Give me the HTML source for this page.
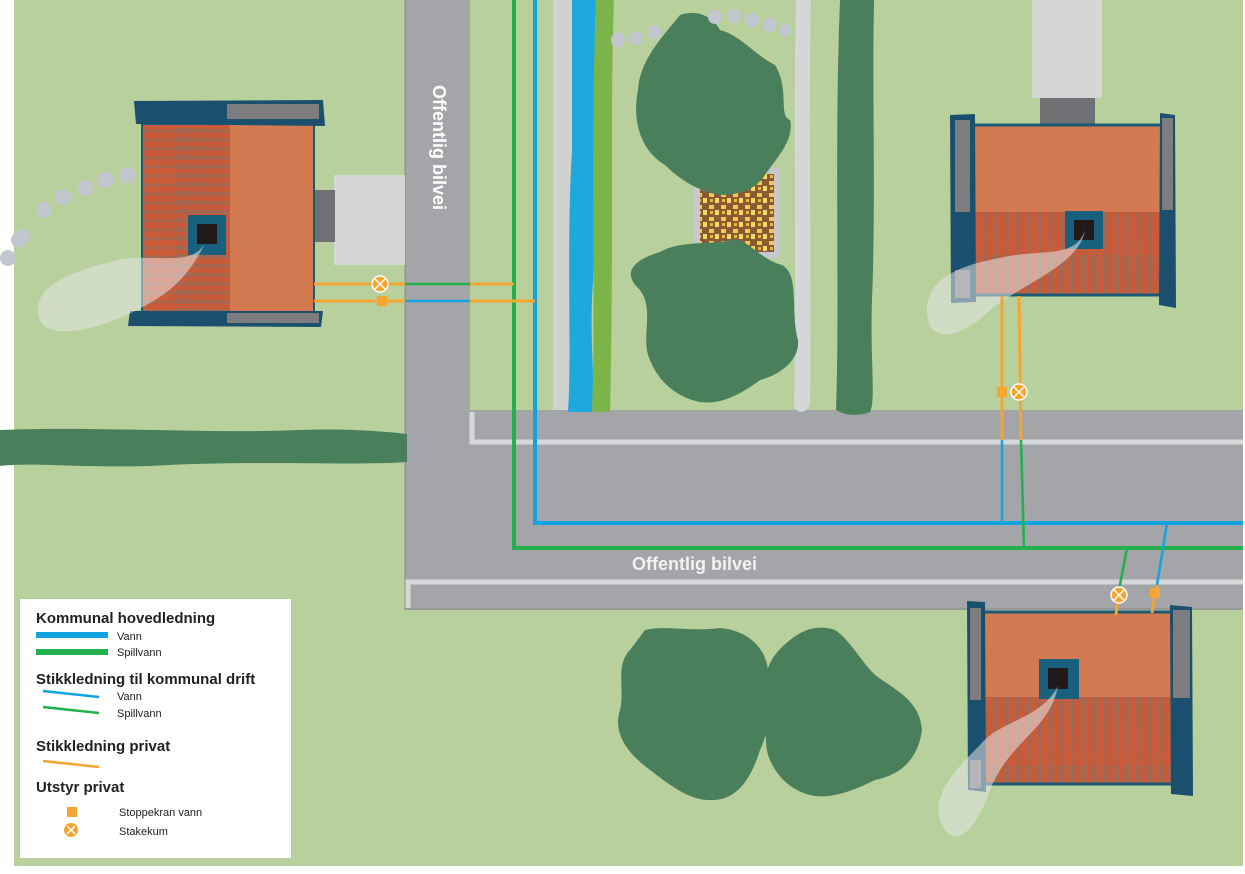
<!DOCTYPE html>
<html><head><meta charset="utf-8"><style>
html,body{margin:0;padding:0;background:#fff}
svg{display:block}
text{font-family:"Liberation Sans",Arial,sans-serif}
</style></head><body>
<svg width="1245" height="874" viewBox="0 0 1245 874" xmlns="http://www.w3.org/2000/svg">
<defs>
<pattern id="stripeH" width="88" height="9" patternUnits="userSpaceOnUse">
<rect width="88" height="9" fill="#c95a3a"/><path d="M0 2 L88 4 L88 6 L0 7Z" fill="#9e6a55" opacity="0.8"/>
</pattern>
<pattern id="stripeV" width="11" height="85" patternUnits="userSpaceOnUse">
<rect width="11" height="85" fill="#c95a3a"/><path d="M2 0 L5 85 L7 85 L9 0Z" fill="#9e6a55" opacity="0.8"/>
</pattern>
<pattern id="gravel" width="12" height="12" patternUnits="userSpaceOnUse">
<rect width="12" height="12" fill="#8a5a32"/><rect x="1" y="1" width="5" height="4" fill="#f3c84f"/><rect x="7" y="6" width="4" height="5" fill="#f6d86a"/><rect x="2" y="7" width="3" height="3" fill="#e9b83c"/>
</pattern>
</defs>
<rect width="1245" height="874" fill="#fff"/>
<rect x="14" y="0" width="1229" height="866" fill="#b8d09c"/>

<!-- roads -->
<rect x="405" y="0" width="65" height="610" fill="#a4a5a8"/>
<rect x="405" y="410" width="838" height="200" fill="#a4a5a8"/>
<path d="M472 412 V442 H1243" stroke="#d6d7d9" stroke-width="5" fill="none"/>
<path d="M408 608 V582 H1243" stroke="#d6d7d9" stroke-width="5" fill="none"/>
<line x1="405" y1="0" x2="405" y2="610" stroke="#8a8b8d" stroke-width="1"/>
<line x1="405" y1="609" x2="1243" y2="609" stroke="#8a8b8d" stroke-width="1"/>
<text transform="translate(433,85) rotate(90)" font-size="18" font-weight="bold" fill="#fff">Offentlig bilvei</text>
<text x="632" y="570" font-size="18" font-weight="bold" fill="#f2f2f2">Offentlig bilvei</text>

<!-- stream -->
<path d="M553 0 H575 V410 H553 Z" fill="#cfd2cf"/>
<path d="M572 0 H596 C592 100 598 200 592 300 C590 350 596 390 592 412 H568 C572 350 566 250 572 150 Z" fill="#1ea8e0"/>
<path d="M596 0 H614 C610 100 614 250 610 412 H592 C596 300 590 150 596 0Z" fill="#7db44a"/>
<!-- path -->
<path d="M796 0 H811 C808 130 812 260 810 405 C806 414 796 414 794 405 C797 260 793 130 796 0Z" fill="#d4d6d8"/>
<!-- hedges -->
<path d="M840 0 H874 C872 100 876 200 872 300 C870 360 876 400 870 412 C860 416 845 416 836 410 C840 300 834 150 840 0Z" fill="#4a7f5c"/>
<path d="M0 430 C100 426 200 434 300 430 C350 428 390 432 407 434 L407 462 C350 466 250 460 150 466 C80 468 30 462 0 466Z" fill="#4a7f5c"/>

<!-- gravel -->
<rect x="693" y="168" width="87" height="90" fill="#c6c7cf"/>
<rect x="700" y="174" width="74" height="78" fill="url(#gravel)"/>
<!-- trees -->
<path d="M680 15 C700 8 715 20 720 30 C740 35 755 55 775 65 C790 90 778 115 790 120 C795 140 775 160 765 175 C755 190 740 195 720 195 C700 192 680 180 665 165 C640 150 632 120 638 90 C640 60 660 40 680 15Z" fill="#4a7f5c"/>
<path d="M660 252 C680 240 715 245 730 240 C745 235 760 260 782 265 C800 275 790 310 798 340 C800 360 780 375 760 380 C740 395 720 405 700 402 C680 398 660 385 650 360 C640 340 655 310 640 290 C618 270 640 258 660 252Z" fill="#4a7f5c"/>
<path d="M645 630 C665 625 690 632 720 628 C745 630 765 645 768 670 C772 700 770 730 760 750 C752 775 740 798 715 800 C690 802 670 785 650 770 C630 755 612 735 620 710 C625 690 615 665 630 650 Z" fill="#4a7f5c"/>
<path d="M790 640 C805 628 820 625 835 630 C850 640 860 660 875 675 C895 690 920 700 922 730 C918 760 900 775 875 780 C855 790 830 800 810 795 C790 790 775 775 768 755 C762 730 770 700 765 680 C768 660 778 650 790 640Z" fill="#4a7f5c"/>

<!-- footstep trails -->
<g fill="#c2c6cf">
<circle cx="8" cy="258" r="8"/><circle cx="22" cy="237" r="8"/><circle cx="44" cy="210" r="8"/><circle cx="63" cy="197" r="8"/><circle cx="85" cy="188" r="8"/><circle cx="106" cy="180" r="8"/><circle cx="127" cy="175" r="8"/><circle cx="18" cy="240" r="7"/>
<circle cx="618" cy="40" r="7"/><circle cx="636" cy="38" r="7"/><circle cx="654" cy="32" r="7"/><circle cx="715" cy="17" r="7"/><circle cx="734" cy="16" r="7"/><circle cx="752" cy="20" r="7"/><circle cx="770" cy="25" r="7"/><circle cx="785" cy="30" r="6"/>
</g>

<!-- driveways -->
<rect x="334" y="175" width="71" height="90" fill="#d6d6d6"/>
<rect x="313" y="190" width="22" height="52" fill="#6f7074"/>
<rect x="1032" y="0" width="70" height="98" fill="#d6d6d6"/>
<rect x="1040" y="98" width="55" height="28" fill="#6f7074"/>

<!-- main pipes -->
<path d="M514 0 V548 H1243" stroke="#22b14c" stroke-width="4" fill="none"/>
<path d="M535 0 V523 H1243" stroke="#12a4e2" stroke-width="4" fill="none"/>

<!-- left house -->
<g>
<rect x="142" y="124" width="172" height="190" fill="#d47a52"/>
<rect x="142" y="124" width="88" height="190" fill="url(#stripeH)"/>
<rect x="142" y="124" width="172" height="190" fill="none" stroke="#1b5a74" stroke-width="2"/>
<path d="M134 101 L323 100 L325 126 L136 124Z" fill="#1b4f6e"/>
<rect x="227" y="104" width="92" height="15" fill="#7d7d80"/>
<path d="M130 311 L323 311 L321 327 L128 326Z" fill="#1b4f6e"/>
<rect x="227" y="313" width="92" height="10" fill="#7d7d80"/>
<rect x="188" y="215" width="38" height="40" fill="#17607e"/>
<rect x="197" y="224" width="20" height="20" fill="#221a1a"/>
<path d="M205 243 C190 270 150 250 110 262 C60 275 30 290 40 320 C50 340 90 330 120 318 C160 300 185 285 205 243Z" fill="#e6e6e6" opacity="0.55"/>
</g>

<!-- top right house -->
<g>
<rect x="970" y="125" width="192" height="170" fill="#d47a52"/>
<rect x="970" y="212" width="192" height="83" fill="url(#stripeV)"/>
<rect x="970" y="125" width="192" height="170" fill="none" stroke="#1b5a74" stroke-width="3"/>
<path d="M950 115 L975 114 L976 302 L951 303Z" fill="#1b4f6e"/>
<rect x="955" y="120" width="15" height="92" fill="#7d7d80"/>
<rect x="955" y="270" width="15" height="28" fill="#7d7d80"/>
<path d="M1160 113 L1175 115 L1176 308 L1159 305Z" fill="#1b4f6e"/>
<rect x="1162" y="118" width="11" height="92" fill="#7d7d80"/>
<rect x="1065" y="211" width="38" height="38" fill="#17607e"/>
<rect x="1074" y="220" width="20" height="20" fill="#221a1a"/>
<path d="M1085 230 C1075 260 1040 248 1000 258 C960 265 920 280 928 320 C935 345 965 335 990 310 C1020 285 1080 265 1085 230Z" fill="#e6e6e6" opacity="0.55"/>
</g>

<!-- bottom right house -->
<g>
<rect x="983" y="612" width="190" height="172" fill="#d47a52"/>
<rect x="983" y="697" width="190" height="87" fill="url(#stripeV)"/>
<rect x="983" y="612" width="190" height="172" fill="none" stroke="#1b5a74" stroke-width="3"/>
<path d="M967 601 L985 602 L986 792 L968 790Z" fill="#1b4f6e"/>
<rect x="970" y="608" width="11" height="92" fill="#7d7d80"/>
<rect x="970" y="760" width="11" height="28" fill="#7d7d80"/>
<path d="M1170 605 L1192 607 L1193 796 L1171 794Z" fill="#1b4f6e"/>
<rect x="1173" y="610" width="17" height="88" fill="#7d7d80"/>
<rect x="1039" y="659" width="40" height="40" fill="#17607e"/>
<rect x="1048" y="668" width="20" height="21" fill="#221a1a"/>
<path d="M1058 686 C1040 720 1000 720 980 745 C955 770 925 800 945 830 C960 850 980 820 990 790 C1010 740 1050 730 1058 686Z" fill="#e6e6e6" opacity="0.55"/>
</g>

<!-- service lines left house -->
<line x1="314" y1="284" x2="405" y2="284" stroke="#f5a531" stroke-width="3"/>
<line x1="405" y1="284" x2="470" y2="284" stroke="#22b14c" stroke-width="2.5"/>
<line x1="470" y1="284" x2="514" y2="284" stroke="#f5a531" stroke-width="3"/>
<line x1="314" y1="301" x2="405" y2="301" stroke="#f5a531" stroke-width="3"/>
<line x1="405" y1="301" x2="470" y2="301" stroke="#12a4e2" stroke-width="2.5"/>
<line x1="470" y1="301" x2="535" y2="301" stroke="#f5a531" stroke-width="3"/>
<!-- top right house service -->
<line x1="1002" y1="296" x2="1002" y2="440" stroke="#f5a531" stroke-width="3"/>
<line x1="1002" y1="440" x2="1002" y2="523" stroke="#12a4e2" stroke-width="2.5"/>
<line x1="1019" y1="296" x2="1021" y2="440" stroke="#f5a531" stroke-width="3"/>
<line x1="1021" y1="440" x2="1024" y2="548" stroke="#22b14c" stroke-width="2.5"/>
<!-- bottom right service -->
<line x1="1127" y1="548" x2="1119" y2="590" stroke="#22b14c" stroke-width="2.5"/>
<line x1="1119" y1="590" x2="1116" y2="615" stroke="#f5a531" stroke-width="3"/>
<line x1="1167" y1="523" x2="1157" y2="585" stroke="#12a4e2" stroke-width="2.5"/>
<line x1="1157" y1="585" x2="1152" y2="613" stroke="#f5a531" stroke-width="3"/>

<!-- equipment -->
<g fill="#f5a531">
<rect x="377" y="296" width="10" height="10"/>
<rect x="997" y="387" width="10" height="10"/>
<rect x="1150" y="588" width="10" height="10"/>
</g>
<g stroke="#fff" stroke-width="1.5">
<circle cx="380" cy="284" r="8" fill="#f5a531"/><path d="M375 279 L385 289 M385 279 L375 289"/>
<circle cx="1019" cy="392" r="8" fill="#f5a531"/><path d="M1014 387 L1024 397 M1024 387 L1014 397"/>
<circle cx="1119" cy="595" r="8" fill="#f5a531"/><path d="M1114 590 L1124 600 M1124 590 L1114 600"/>
</g>

<!-- legend -->
<rect x="20" y="599" width="271" height="259" fill="#fff"/>
<g fill="#222">
<text x="36" y="623" font-size="15" font-weight="bold">Kommunal hovedledning</text>
<text x="117" y="640" font-size="11">Vann</text>
<text x="117" y="656" font-size="11">Spillvann</text>
<text x="36" y="684" font-size="15" font-weight="bold">Stikkledning til kommunal drift</text>
<text x="117" y="700" font-size="11">Vann</text>
<text x="117" y="717" font-size="11">Spillvann</text>
<text x="36" y="751" font-size="15" font-weight="bold">Stikkledning privat</text>
<text x="36" y="792" font-size="15" font-weight="bold">Utstyr privat</text>
<text x="119" y="816" font-size="11">Stoppekran vann</text>
<text x="119" y="835" font-size="11">Stakekum</text>
</g>
<rect x="36" y="632" width="72" height="6" fill="#12a4e2"/>
<rect x="36" y="649" width="72" height="6" fill="#22b14c"/>
<line x1="43" y1="691" x2="99" y2="697" stroke="#12a4e2" stroke-width="2.5"/>
<line x1="43" y1="707" x2="99" y2="713" stroke="#22b14c" stroke-width="2.5"/>
<line x1="43" y1="761" x2="99" y2="767" stroke="#f5a531" stroke-width="2.5"/>
<rect x="67" y="807" width="10" height="10" fill="#f5a531"/>
<circle cx="71" cy="830" r="7" fill="#f5a531"/>
<path d="M67 826 L75 834 M75 826 L67 834" stroke="#fff" stroke-width="1.5"/>
</svg>
</body></html>
